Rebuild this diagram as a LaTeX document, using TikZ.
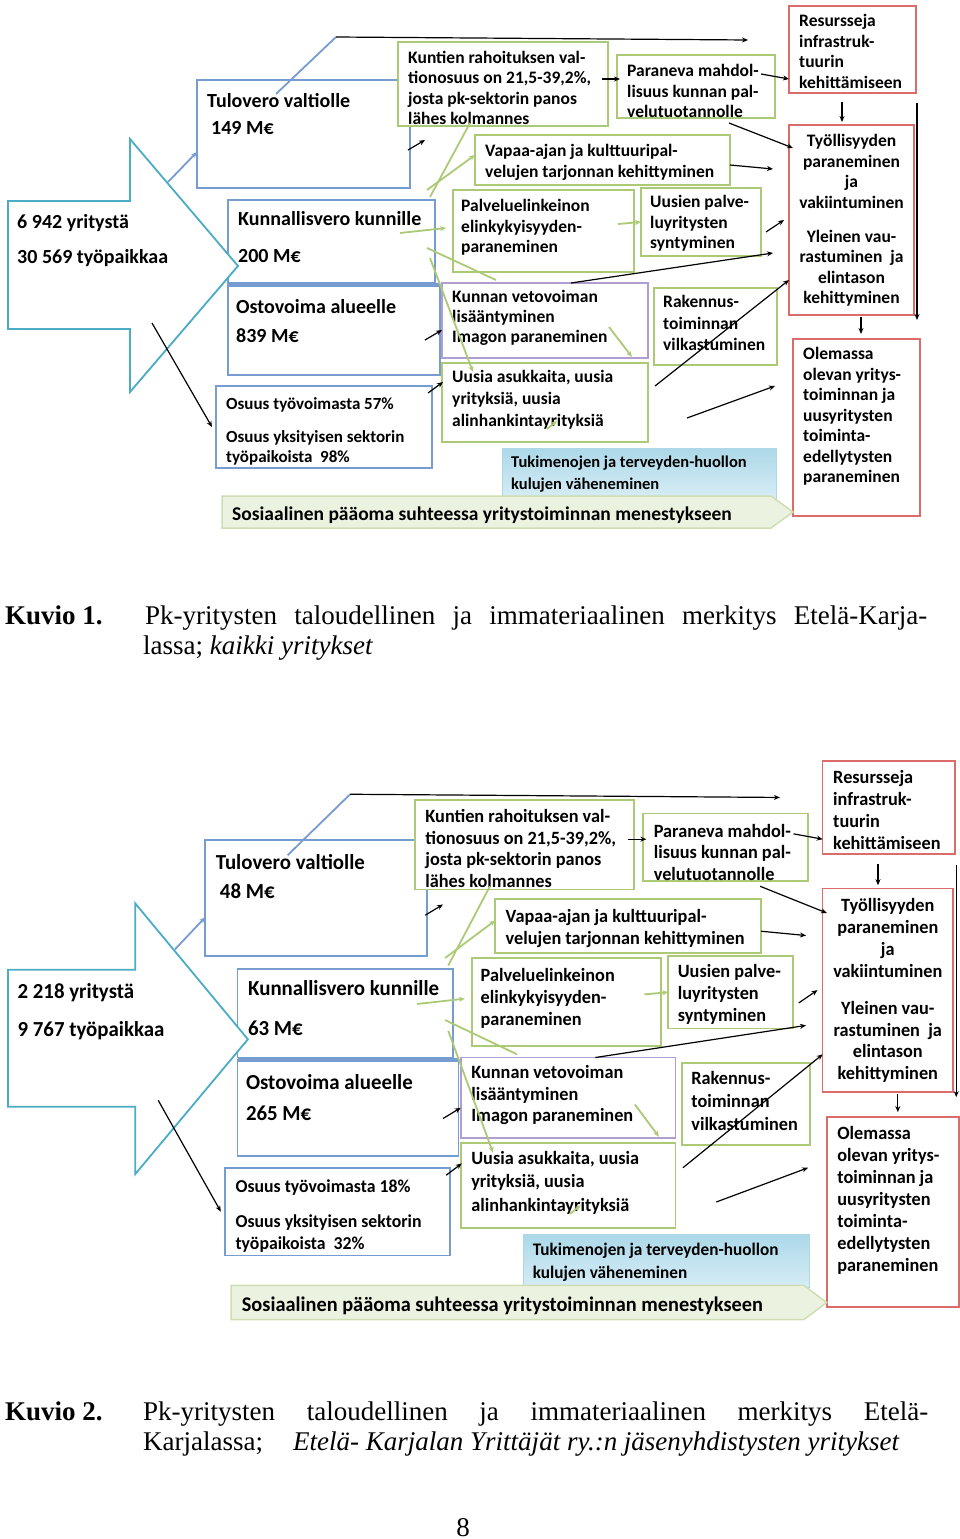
\documentclass[tikz,border=0pt]{standalone}
\usepackage{fontspec}
\setsansfont{Carlito}
\newfontfamily\kuvafontti{Liberation Serif}
\usetikzlibrary{arrows.meta}

\definecolor{laatikkosin}{RGB}{118,156,210}
\definecolor{nuolisyaani}{RGB}{75,172,198}
\definecolor{laatikkovihr}{RGB}{172,202,118}
\definecolor{laatikkovio}{RGB}{176,158,208}
\definecolor{laatikkopun}{RGB}{218,108,108}
\definecolor{tukiyla}{RGB}{172,216,232}
\definecolor{tukiala}{RGB}{214,237,246}
\definecolor{bannerivari}{RGB}{236,242,224}
\definecolor{banneriraja}{RGB}{206,222,178}

% #1 yritykset, #2 tyopaikat, #3 tulovero, #4 kunnallisvero, #5 ostovoima, #6 ja #7 osuudet
\newcommand\kaavio[7]{%
  % laatikot
  \node[sinilaatikko, minimum width=213, minimum height=108] (tulovero) at (197,80) {};
  \node[vihrealaatikko, minimum width=210, minimum height=84] (kuntien) at (398,42) {};
  \node[vihrealaatikko, minimum width=158, minimum height=63] (paraneva) at (617,55) {};
  \node[punalaatikko, minimum width=127, minimum height=87] (resurs) at (789,6) {};
  \node[vihrealaatikko, minimum width=255, minimum height=50] (vapaa) at (475,135) {};
  \node[vihrealaatikko, minimum width=181, minimum height=82] (palvelu) at (453,190) {};
  \node[vihrealaatikko, minimum width=120, minimum height=68] (uusien) at (641,188) {};
  \node[sinilaatikko, minimum width=207, minimum height=83] (kunnallis) at (228,200) {};
  \node[sinilaatikko, minimum width=212, minimum height=90] (ostovoima) at (228,285) {};
  \draw[laatikkosin, line width=4pt] (ostovoima.north west) -- (ostovoima.north east);
  \node[sinilaatikko, minimum width=216, minimum height=82] (osuus) at (216,386) {};
  \node[violaatikko, minimum width=206, minimum height=75] (kunnan) at (442,283) {};
  \node[vihrealaatikko, minimum width=206, minimum height=79] (uusia) at (442,363) {};
  \node[vihrealaatikko, minimum width=123, minimum height=77] (rakennus) at (654,288) {};
  \node[punalaatikko, minimum width=125, minimum height=190] (tyollisyys) at (789,125) {};
  \node[punalaatikko, minimum width=127, minimum height=177] (olemassa) at (793,339) {};
  \node[laatikko, draw=tukiyla, line width=0.6pt, top color=tukiyla, bottom color=tukiala,
        minimum width=274, minimum height=50] (tuki) at (502,448) {};
  \draw[fill=bannerivari, draw=banneriraja, line width=1.5pt]
    (222,496) -- (771,496) -- (793,512) -- (771,528) -- (222,528) -- cycle;
  \draw[nuolisyaani, fill=white, line width=1.8pt]
    (8,201) -- (130,201) -- (130,139) -- (238,266) -- (130,392) -- (130,329) -- (8,329) -- cycle;
  % tekstit
  \node[otsikko] (yritA) at (17,228) {#1 yritystä};
  \node[otsikko] (yritB) at (17,263) {#2 työpaikkaa};
  \node[otsikko] (tuloveroA) at (207,107) {Tulovero valtiolle};
  \node[otsikko] (tuloveroB) at (211,134) {#3 M€};
  \node[otsikko] (kunnallisA) at (238,225) {Kunnallisvero kunnille};
  \node[otsikko] (kunnallisB) at (238,262) {#4 M€};
  \node[otsikko] (ostovoimaA) at (236,313) {Ostovoima alueelle};
  \node[otsikko] (ostovoimaB) at (236,342) {#5 M€};
  \node[otsikko, font=\sffamily\bfseries\fontsize{17}{20}\selectfont] (osuusA) at (226,409) {Osuus työvoimasta #6\%};
  \node[teksti, font=\sffamily\bfseries\fontsize{17}{20}\selectfont] (osuusB) at (226,430) {Osuus yksityisen sektorin\\työpaikoista~ #7\%};
  \node[teksti] (kuntienT) at (408,50.5) {Kuntien rahoituksen val-\\tionosuus on 21,5-39,2\%,\\josta pk-sektorin panos\\lähes kolmannes};
  \node[teksti] (paranevaT) at (627,64.5) {Paraneva mahdol-\\lisuus kunnan pal-\\velutuotannolle};
  \node[teksti] (vapaaT) at (485,144.5) {Vapaa-ajan ja kulttuuripal-\\velujen tarjonnan kehittyminen};
  \node[teksti] (palveluT) at (461,199.5) {Palveluelinkeinon\\elinkykyisyyden-\\paraneminen};
  \node[teksti] (uusienT) at (650,195.5) {Uusien palve-\\luyritysten\\syntyminen};
  \node[teksti, font=\sffamily\bfseries\fontsize{17.5}{20}\selectfont] (kunnanT) at (452,290.5) {Kunnan vetovoiman\\lisääntyminen\\Imagon paraneminen};
  \node[teksti, font=\sffamily\bfseries\fontsize{17.5}{22}\selectfont] (uusiaT) at (452,370.5) {Uusia asukkaita, uusia\\yrityksiä, uusia\\alinhankintayrityksiä};
  \node[teksti, font=\sffamily\bfseries\fontsize{17.5}{21.5}\selectfont] (rakennusT) at (663,295.5) {Rakennus-\\toiminnan\\vilkastuminen};
  \node[teksti, font=\sffamily\bfseries\fontsize{16.5}{22}\selectfont] (tukiT) at (511,456) {Tukimenojen ja terveyden-huollon\\kulujen väheneminen};
  \node[otsikko, font=\sffamily\bfseries\fontsize{19.5}{22}\selectfont] (sosiaalinenT) at (232,520) {Sosiaalinen pääoma suhteessa yritystoiminnan menestykseen};
  \node[teksti] (resursT) at (799,14.5) {Resursseja\\infrastruk-\\tuurin\\kehittämiseen};
  \node[teksti, anchor=north, align=center] (tyollisyysT) at (851.5,134.5) {Työllisyyden\\paraneminen\\ja\\vakiintuminen\\[13.5pt]Yleinen vau-\\rastuminen~ ja\\elintason\\kehittyminen};
  \node[teksti] (olemassaT) at (803,347.5) {Olemassa\\olevan yritys-\\toiminnan ja\\uusyritysten\\toiminta-\\edellytysten\\paraneminen};
  % nuolet
  \coordinate (ylaA) at (276,94);
  \coordinate (ylaB) at (336,37);
  \coordinate (ylaC) at (748,40);
  \draw[laatikkosin, line width=1.8pt] (ylaA) -- (ylaB);
  \draw[musta] (ylaB) -- (ylaC);
  \coordinate (nuoliA) at (168,182);
  \coordinate (nuoliB) at (197,152);
  \draw[laatikkosin, line width=1.8pt, -{Stealth[length=6pt, width=5pt]}] (nuoliA) -- (nuoliB);
  \coordinate (m1a) at (602,79);   \coordinate (m1b) at (620,79);
  \coordinate (m2a) at (761,74);   \coordinate (m2b) at (789,79);
  \coordinate (m3a) at (842,102);  \coordinate (m3b) at (842,122);
  \coordinate (m4a) at (917,103);  \coordinate (m4b) at (917,320);
  \coordinate (m5a) at (729,123);  \coordinate (m5b) at (793,148);
  \coordinate (m6a) at (730,165);  \coordinate (m6b) at (773,169);
  \coordinate (m7a) at (766,232);  \coordinate (m7b) at (784,220);
  \coordinate (m8a) at (571,283);  \coordinate (m8b) at (773,253);
  \coordinate (m9a) at (655,386);  \coordinate (m9b) at (789,280);
  \coordinate (m10a) at (687,418); \coordinate (m10b) at (775,386);
  \coordinate (m11a) at (861,317); \coordinate (m11b) at (861,334);
  \coordinate (m12a) at (152,323); \coordinate (m12b) at (212,427);
  \coordinate (m13a) at (408,150); \coordinate (m13b) at (425,140);
  \coordinate (m14a) at (425,340); \coordinate (m14b) at (442,330);
  \coordinate (m15a) at (428,393); \coordinate (m15b) at (443,382);
  \foreach \i in {1,...,15} {\draw[musta] (m\i a) -- (m\i b);}
  \coordinate (v1a) at (400,233);  \coordinate (v1b) at (446,228);
  \coordinate (v2a) at (618,224);  \coordinate (v2b) at (641,222);
  \coordinate (v3a) at (427,190);  \coordinate (v3b) at (475,155);
  \coordinate (v4a) at (430,258);  \coordinate (v4b) at (473,372);
  \coordinate (v5a) at (609,327);  \coordinate (v5b) at (632,357);
  \coordinate (v6a) at (547,429);  \coordinate (v6b) at (557,421);
  \foreach \i in {1,...,6} {\draw[vihreanuoli] (v\i a) -- (v\i b);}
  \coordinate (v7a) at (430,197);  \coordinate (v7b) at (470,123);
  \coordinate (v8a) at (427,248);  \coordinate (v8b) at (496,280);
  \draw[vihreaviiva] (v7a) -- (v7b);
  \draw[vihreaviiva] (v8a) -- (v8b);
}

\begin{document}
\begin{tikzpicture}[x=1pt, y=-1pt,
    laatikko/.style = {draw, fill=white, line width=1.8pt, inner sep=0pt, outer sep=0pt, anchor=north west},
    sinilaatikko/.style = {laatikko, draw=laatikkosin},
    vihrealaatikko/.style = {laatikko, draw=laatikkovihr},
    violaatikko/.style = {laatikko, draw=laatikkovio},
    punalaatikko/.style = {laatikko, draw=laatikkopun},
    teksti/.style = {inner sep=0pt, anchor=north west, align=left, font=\sffamily\bfseries\fontsize{17.5}{20.5}\selectfont},
    otsikko/.style = {inner sep=0pt, anchor=base west, font=\sffamily\bfseries\fontsize{20}{24}\selectfont},
    musta/.style = {line width=1.2pt, -{Stealth[length=6pt, width=5pt]}},
    vihreanuoli/.style = {laatikkovihr, line width=1.8pt, -{Stealth[length=6pt, width=5pt]}},
    vihreaviiva/.style = {laatikkovihr, line width=1.8pt},
    kuvateksti/.style = {inner sep=0pt, anchor=base west, font=\kuvafontti\fontsize{27}{30}\selectfont}
    ]
    \useasboundingbox (0,0) rectangle (960,1539);

    \begin{scope}[name prefix=a-]
        \kaavio{6 942}{30 569}{149}{200}{839}{57}{98}
    \end{scope}
    \begin{scope}[shift={(8,760)}, xscale=1.043, yscale=1.07, shift={(-8,-5)}, transform shape, name prefix=b-]
        \kaavio{2 218}{9 767}{48}{63}{265}{18}{32}
    \end{scope}

    % kuvatekstit
    \node[kuvateksti] (kuvio1) at (5,624) {\bfseries Kuvio 1.};
    \node[kuvateksti] (kuvio1a) at (145,624) {\makebox[782pt][s]{Pk-yritysten taloudellinen ja immateriaalinen merkitys Etelä-Karja-}};
    \node[kuvateksti] (kuvio1b) at (143,654) {lassa; \textit{kaikki yritykset}};
    \node[kuvateksti] (kuvio2) at (5,1420) {\bfseries Kuvio 2.};
    \node[kuvateksti] (kuvio2a) at (143,1420) {\makebox[785pt][s]{Pk-yritysten taloudellinen ja immateriaalinen merkitys Etelä-}};
    \node[kuvateksti] (kuvio2b) at (143,1450) {Karjalassa;};
    \node[kuvateksti] (kuvio2c) at (293,1450) {\textit{Etelä- Karjalan Yrittäjät ry.:n jäsenyhdistysten yritykset}};
    \node[kuvateksti, anchor=base] (sivu) at (463,1536) {8};
\end{tikzpicture}
\end{document}
